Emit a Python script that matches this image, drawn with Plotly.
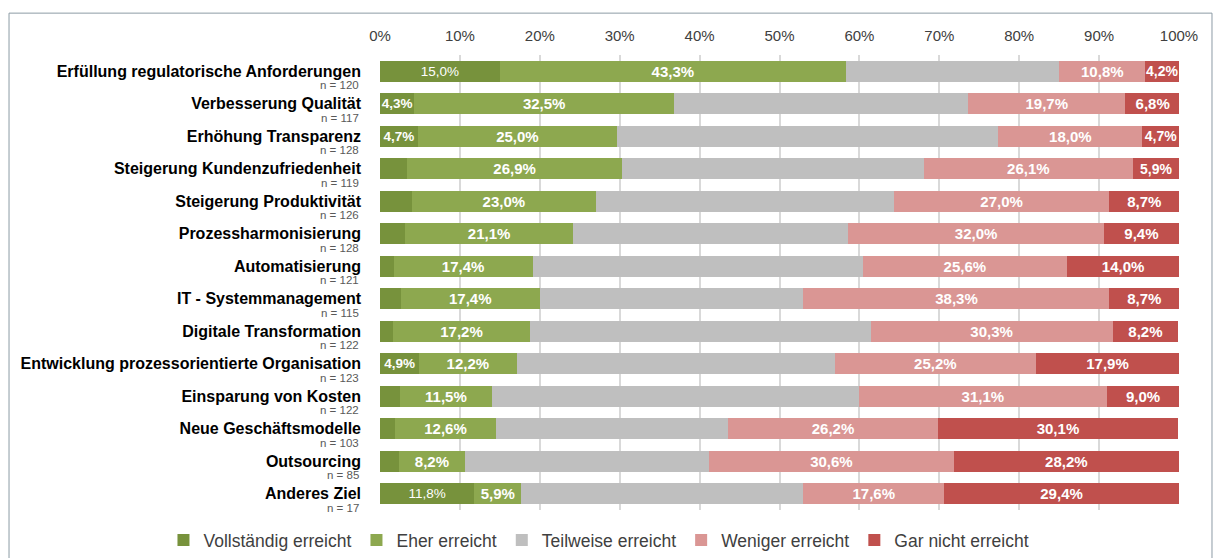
import plotly.graph_objects as go

# Ziele und Stichprobengrößen
categories = [
    "Erfüllung regulatorische Anforderungen",
    "Verbesserung Qualität",
    "Erhöhung Transparenz",
    "Steigerung Kundenzufriedenheit",
    "Steigerung Produktivität",
    "Prozessharmonisierung",
    "Automatisierung",
    "IT - Systemmanagement",
    "Digitale Transformation",
    "Entwicklung prozessorientierte Organisation",
    "Einsparung von Kosten",
    "Neue Geschäftsmodelle",
    "Outsourcing",
    "Anderes Ziel",
]
n_values = [120, 117, 128, 119, 126, 128, 121, 115, 122, 123, 122, 103, 85, 17]

# Anteile je Antwortkategorie in Prozent
vollstaendig = [15.0, 4.3, 4.7, 3.4, 4.0, 3.1, 1.7, 2.6, 1.6, 4.9, 2.5, 1.9, 2.4, 11.8]
eher = [43.3, 32.5, 25.0, 26.9, 23.0, 21.1, 17.4, 17.4, 17.2, 12.2, 11.5, 12.6, 8.2, 5.9]
teilweise = [26.7, 36.8, 47.7, 37.8, 37.3, 34.4, 41.3, 33.0, 42.6, 39.8, 45.9, 29.1, 30.6, 35.3]
weniger = [10.8, 19.7, 18.0, 26.1, 27.0, 32.0, 25.6, 38.3, 30.3, 25.2, 31.1, 26.2, 30.6, 17.6]
gar_nicht = [4.2, 6.8, 4.7, 5.9, 8.7, 9.4, 14.0, 8.7, 8.2, 17.9, 9.0, 30.1, 28.2, 29.4]

# Welche Segmente beschriftet werden
vollstaendig_labeled = [True, True, True, False, False, False, False, False, False, True, False, False, False, True]

x_ticks = list(range(0, 101, 10))

series = [
    ("Vollständig erreicht", vollstaendig, "#77923C", vollstaendig_labeled),
    ("Eher erreicht", eher, "#8DA84F", [True] * len(categories)),
    ("Teilweise erreicht", teilweise, "#BFBFBF", [False] * len(categories)),
    ("Weniger erreicht", weniger, "#DA9694", [True] * len(categories)),
    ("Gar nicht erreicht", gar_nicht, "#C0504D", [True] * len(categories)),
]


def fmt(v):
    return f"{v:.1f}%".replace(".", ",")


fig = go.Figure()
for idx, (name, vals, color, shown) in enumerate(series):
    texts = [fmt(v) if s else "" for v, s in zip(vals, shown)]
    if idx == 0:
        sizes = [13.5 for _ in vals]
    elif idx in (3, 4):
        sizes = [14 if v < 6 else 15 for v in vals]
    else:
        sizes = [15 for _ in vals]
    weights = ["normal" if (idx == 0 and v >= 10) else "bold" for v in vals]
    fig.add_trace(go.Bar(
        name=name,
        y=categories,
        x=vals,
        orientation="h",
        marker=dict(color=color, line=dict(width=0)),
        text=texts,
        textposition="inside",
        insidetextanchor="middle",
        constraintext="none",
        textfont=dict(color="white", size=sizes, family="Liberation Sans", weight=weights),
        hoverinfo="skip",
    ))

annotations = []
for cat, n in zip(categories, n_values):
    annotations.append(dict(
        x=-0.024, xref="paper", y=cat, yref="y",
        xanchor="right", yanchor="middle", yshift=-14,
        text=f"n = {n}", showarrow=False,
        font=dict(size=11.5, color="#595959", family="Liberation Sans"),
    ))

fig.update_layout(
    barmode="stack",
    bargap=0.344,
    width=1214,
    height=558,
    margin=dict(l=380, r=35, t=55, b=48, autoexpand=False),
    paper_bgcolor="white",
    plot_bgcolor="white",
    font=dict(family="Liberation Sans", color="#404040"),
    xaxis=dict(
        side="top",
        range=[0, 100],
        tickvals=x_ticks,
        ticktext=[f"{t}%" for t in x_ticks],
        showgrid=True,
        gridcolor="#D9D9D9",
        gridwidth=1.5,
        zeroline=False,
        showline=False,
        ticks="",
        ticklabelstandoff=10,
        tickfont=dict(size=15, color="#404040"),
        fixedrange=True,
    ),
    yaxis=dict(
        range=[len(categories) - 0.5, -0.5],
        showgrid=False,
        zeroline=False,
        showline=False,
        ticks="",
        ticklabelstandoff=18,
        tickfont=dict(size=16, color="#000000", family="Liberation Sans", weight="bold"),
        fixedrange=True,
    ),
    legend=dict(
        orientation="h",
        x=-0.271, xanchor="left",
        y=-0.066, yanchor="middle",
        font=dict(size=17.5, color="#404040"),
        itemsizing="constant",
        traceorder="normal",
    ),
    annotations=annotations,
    shapes=[dict(
        type="rect", xref="paper", yref="paper",
        x0=-0.4643, x1=1.0413, y0=-0.2, y1=1.092,
        line=dict(color="#8C9BA5", width=1), fillcolor="rgba(0,0,0,0)", layer="below",
    )],
    showlegend=True,
)

fig.write_html("out.html")
